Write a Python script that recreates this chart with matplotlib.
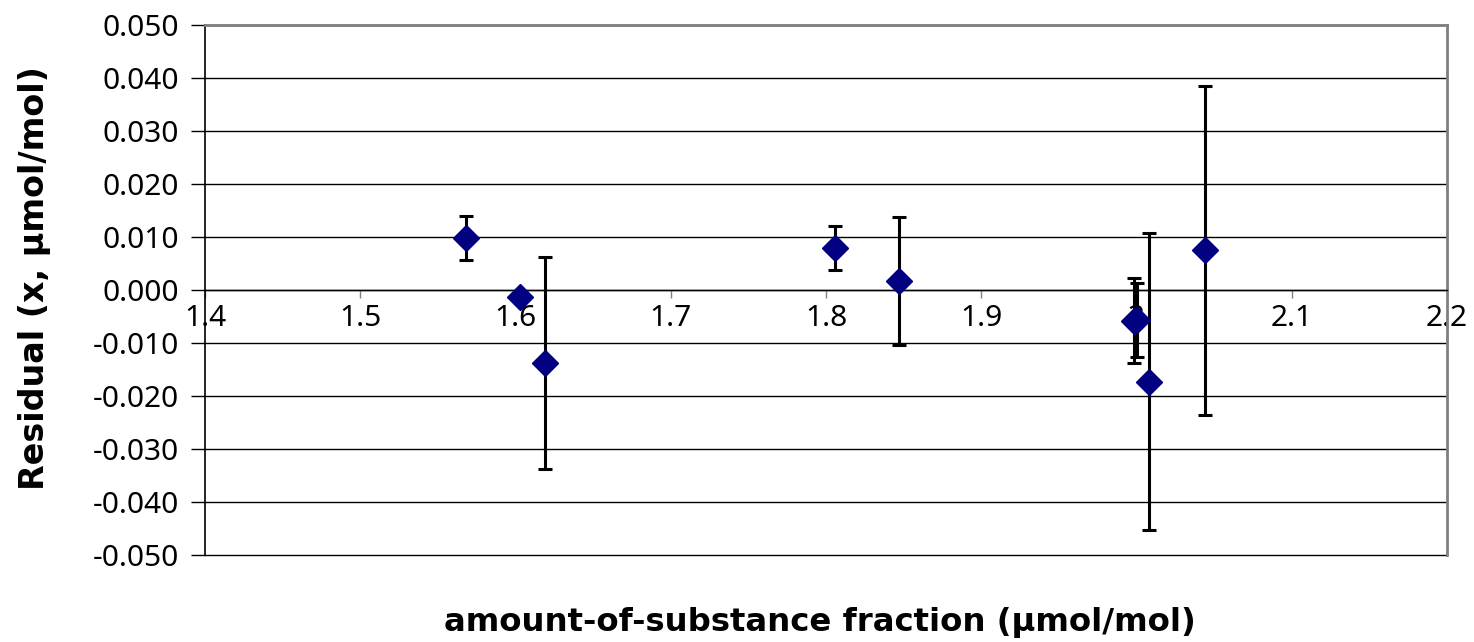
import numpy as np
import matplotlib.pyplot as plt
from matplotlib.ticker import FixedLocator

plt.rcParams['axes.unicode_minus'] = False
plt.rcParams['font.family'] = ['Noto Sans', 'DejaVu Sans']

# data
fraction = [1.568, 1.603, 1.619, 1.806, 1.847, 1.9985, 2.000, 2.008, 2.044]
residual = [0.0098, -0.0013, -0.0138, 0.0079, 0.0017, -0.0058, -0.0057, -0.0173, 0.0075]
uncert = [0.0042, 0.0010, 0.0200, 0.0041, 0.0120, 0.0080, 0.0070, 0.0280, 0.0310]

xTicks = [1.4, 1.5, 1.6, 1.7, 1.8, 1.9, 2.0, 2.1, 2.2]
xTickLabels = ['1.4', '1.5', '1.6', '1.7', '1.8', '1.9', '2', '2.1', '2.2']
yTicks = np.round(np.arange(-0.05, 0.0501, 0.01), 3)

fig = plt.figure(figsize=(14.74, 6.42), dpi=100)
ax = fig.add_axes([205 / 1474, 87 / 642, 1242 / 1474, 530 / 642])

ax.errorbar(fraction, residual, yerr=uncert, fmt='D', color='#000080',
            markersize=13.5, ecolor='black', elinewidth=2.2, capsize=4.7,
            capthick=2.2, zorder=3)

ax.set_xlim(1.4, 2.2)
ax.set_ylim(-0.05, 0.05)

for y in yTicks:
    ax.axhline(y, color='black', linewidth=1.0, zorder=1, clip_on=False)

ax.spines['bottom'].set_position(('data', 0))
ax.spines['bottom'].set_color('black')
ax.spines['bottom'].set_linewidth(1.0)
ax.spines['left'].set_color('black')
ax.spines['left'].set_linewidth(1.2)
for side in ['top', 'right']:
    ax.spines[side].set_color('#808080')
    ax.spines[side].set_linewidth(2.0)

ax.xaxis.set_major_locator(FixedLocator(xTicks))
ax.set_xticklabels(xTickLabels)
ax.set_yticks(yTicks)
ax.set_yticklabels(['%.3f' % v for v in yTicks])
ax.tick_params(axis='x', direction='out', length=6, width=1, color='#808080',
               labelsize=21.5, pad=4)
ax.tick_params(axis='y', direction='out', length=10, width=1, color='black',
               labelsize=21.5, pad=9)

fig.text(820 / 1474, 1 - 622 / 642, 'amount-of-substance fraction (µmol/mol)',
         ha='center', va='center', fontsize=23.3, fontweight='bold',
         family='DejaVu Sans')
fig.text(35 / 1474, 1 - 278 / 642, 'Residual (x, µmol/mol)',
         ha='center', va='center', rotation=90, fontsize=24, fontweight='bold',
         family='DejaVu Sans')

fig.savefig('out.png', dpi=100, facecolor='white')
